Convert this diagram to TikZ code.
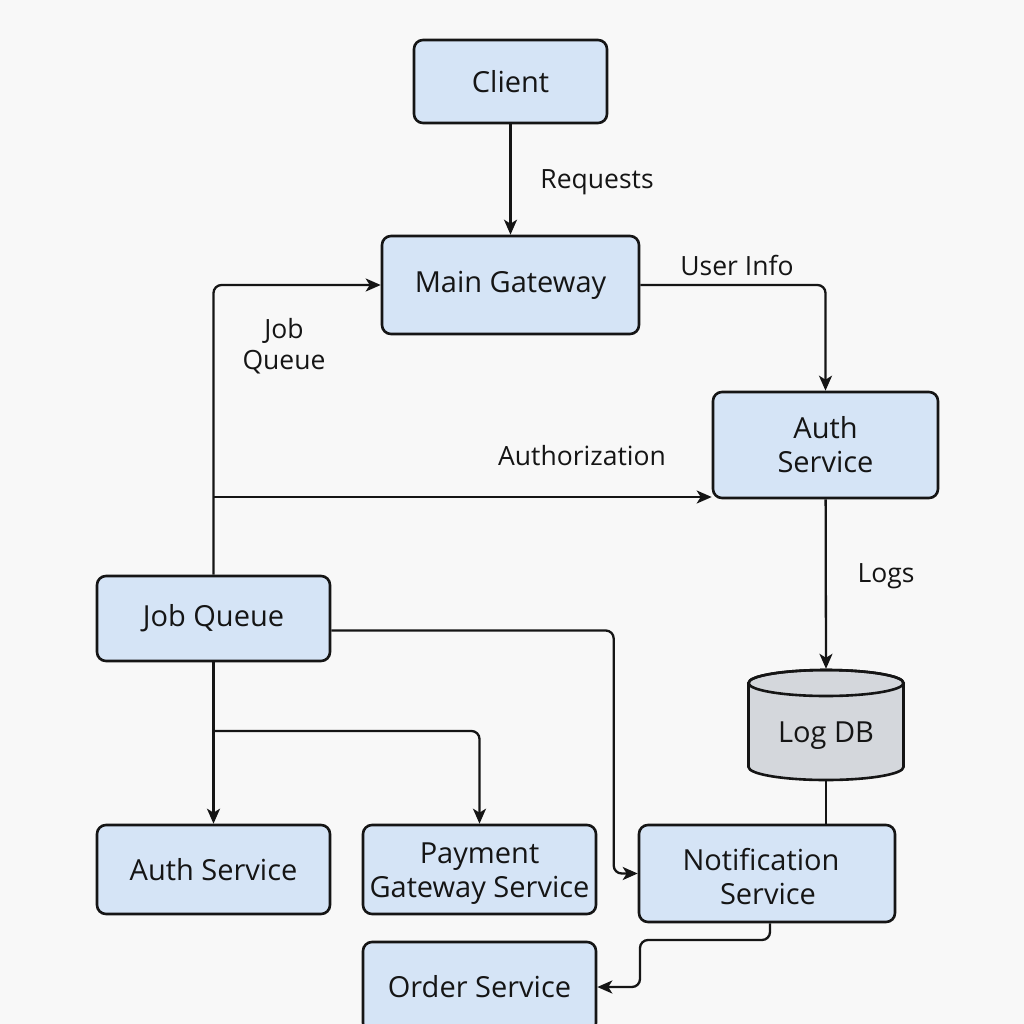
\documentclass[tikz,border=0pt]{standalone}
\usepackage{fontspec}
\setmainfont{Open Sans}
\usetikzlibrary{arrows.meta,calc}
\definecolor{bg}{HTML}{F8F8F8}
\definecolor{boxfill}{HTML}{D5E4F6}
\definecolor{dbfill}{HTML}{D4D7DC}
\definecolor{ink}{HTML}{151515}
\newcommand\boxfnt{\fontsize{29}{34}\selectfont}
\newcommand\lblfnt{\fontsize{26.5}{31}\selectfont}
\begin{document}
\begin{tikzpicture}[x=1pt,y=-1pt,
 box/.style={draw=ink, fill=boxfill, line width=2.6pt, rounded corners=9pt, align=center, font=\boxfnt, text=ink, inner sep=0pt},
 boxtext/.style={font=\boxfnt, text=ink, align=center, inner sep=0pt},
 conn/.style={draw=ink, line width=2.3pt, rounded corners=8pt},
 arr/.style={conn, -{Stealth[length=15pt,width=13pt,inset=4pt]}},
 lbl/.style={font=\lblfnt, text=ink, align=center, inner sep=0pt}]
\fill[bg] (0,0) rectangle (1024,1024);
\useasboundingbox (0,0) rectangle (1024,1024);
% nodes
\node[box, minimum width=193pt, minimum height=83pt] (client) at (510.5,81.5) {Client};
\node[box, minimum width=257pt, minimum height=98pt] (gw) at (510.5,285) {Main Gateway};
\node[box, minimum width=225pt, minimum height=106pt] (authr) at (825.5,445) {Auth\\Service};
\node[box, minimum width=233pt, minimum height=85pt] (jq) at (213.5,618.5) {Job Queue};
\node[box, minimum width=233pt, minimum height=89pt] (authl) at (213.5,869.5) {Auth Service};
\node[box, minimum width=233pt, minimum height=89pt] (pay) at (479.5,869.5) {};
\node[boxtext] (paytext) at (479.5,874) {Payment\\Gateway Service};
\node[box, minimum width=256pt, minimum height=97pt] (notif) at (767,873.5) {};
\node[boxtext] (notiftext) at (761,877) {Notification\\\hspace*{14pt}Service};
\node[box, minimum width=233pt, minimum height=90pt] (order) at (479.5,987) {Order Service};
% Log DB cylinder
\node[minimum width=155pt, minimum height=112pt, inner sep=0pt] (logdb) at (826,725) {};
\filldraw[fill=dbfill, draw=ink, line width=2.6pt] (748.5,683) -- (748.5,767)
  arc[start angle=180, end angle=360, x radius=77.5pt, y radius=13pt] -- (903.5,683)
  arc[start angle=0, end angle=180, x radius=77.5pt, y radius=13pt] -- cycle;
\draw[draw=ink, line width=2.6pt] (826,683) ellipse [x radius=77.5pt, y radius=13pt];
\node[boxtext] (logdbtext) at (826,736) {Log DB};
% connectors
\draw[arr] (client) -- (gw);
\draw[arr] (gw.east) -| (authr.north);
\draw[arr] (jq.north) |- (gw.west);
\coordinate (b1) at (213.5,497);
\draw[arr] (b1) -- (authr.west |- b1);
\draw[arr] (authr) -- (logdb.north);
\draw[conn] (logdb.south) -- (notif.north -| logdb.south);
\draw[arr] ($(jq.east)+(0,12)$) -| ($(notif.west)+(-24,0)$) -- (notif.west);
\draw[arr] (jq) -- (authl);
\coordinate (b2) at (213.5,731);
\draw[arr] (b2) -| (pay.north);
\draw[arr] ($(notif.south)+(3,0)$) |- (640,940) |- (order.east);
% labels
\node[lbl] (lreq) at (597,182) {Requests};
\node[lbl] (luser) at (737,265) {User Info};
\node[lbl] (ljq) at (284,346) {Job\\Queue};
\node[lbl] (lauth) at (582,456) {Authorization};
\node[lbl] (llogs) at (886,576) {Logs};
\end{tikzpicture}
\end{document}
